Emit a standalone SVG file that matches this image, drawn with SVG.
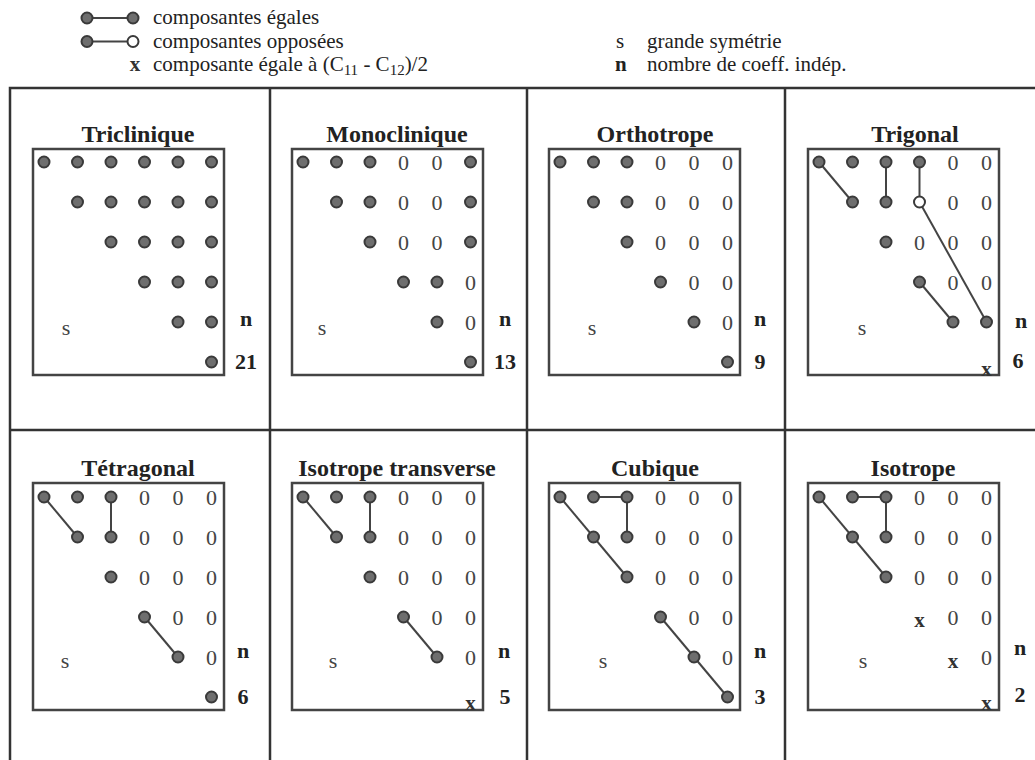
<svg xmlns="http://www.w3.org/2000/svg" width="1035" height="760" viewBox="0 0 1035 760">
<style>
text{font-family:"Liberation Serif","Times New Roman",serif;fill:#222}
.lg{font-size:21px}
.ti{font-size:24px;font-weight:bold;text-anchor:middle}
.z{font-size:22px;text-anchor:middle;fill:#444}
.s{font-size:22px;text-anchor:middle;fill:#444}
.n{font-size:22px;font-weight:bold;text-anchor:middle}
.x{font-size:21px;font-weight:bold;text-anchor:middle;fill:#333}
.frame{stroke:#333;stroke-width:2.5;fill:none}
.box{stroke:#444;stroke-width:2.5;fill:none}
.c{stroke:#444;stroke-width:2;fill:none}
.d{fill:#6e6e6e;stroke:#3a3a3a;stroke-width:2}
.h{fill:#fff;stroke:#3a3a3a;stroke-width:2}
</style>
<defs>
<circle id="dot" class="d" r="5.5"/>
<circle id="hol" class="h" r="5.5"/>
</defs>
<rect width="1035" height="760" fill="#fff"/>

<g id="legend">
<line class="c" x1="87" y1="18" x2="133" y2="18"/>
<use href="#dot" x="87" y="18"/><use href="#dot" x="133" y="18"/>
<text class="lg" x="153" y="24">composantes égales</text>
<line class="c" x1="87" y1="41.5" x2="133" y2="41.5"/>
<use href="#dot" x="87" y="41.5"/><use href="#hol" x="133" y="41.5"/>
<text class="lg" x="153" y="47.5">composantes opposées</text>
<text class="x" x="135" y="71">x</text>
<text class="lg" x="153" y="71">composante égale à (C<tspan font-size="15" dy="4">11</tspan><tspan dy="-4"> - C</tspan><tspan font-size="15" dy="4">12</tspan><tspan dy="-4">)/2</tspan></text>
<text class="lg" x="616" y="47.5">s</text>
<text class="lg" x="647" y="47.5">grande symétrie</text>
<text class="lg" x="615" y="71" font-weight="bold">n</text>
<text class="lg" x="647" y="71">nombre de coeff. indép.</text>
</g>

<g id="frame">
<polyline class="frame" points="1040,88 10,88 10,765"/>
<line class="frame" x1="270" y1="88" x2="270" y2="765"/>
<line class="frame" x1="527" y1="88" x2="527" y2="765"/>
<line class="frame" x1="785" y1="88" x2="785" y2="765"/>
<line class="frame" x1="10" y1="430" x2="1040" y2="430"/>
</g>

<g id="connectors">
<!-- Trigonal -->
<line class="c" x1="819" y1="162" x2="852.5" y2="202"/>
<line class="c" x1="886" y1="162" x2="886" y2="202"/>
<line class="c" x1="919.5" y1="162" x2="919.5" y2="202"/>
<line class="c" x1="919.5" y1="202" x2="986.5" y2="322"/>
<line class="c" x1="919.5" y1="282" x2="953" y2="322"/>
<!-- Tetragonal -->
<line class="c" x1="44" y1="497" x2="77.5" y2="537"/>
<line class="c" x1="111" y1="497" x2="111" y2="537"/>
<line class="c" x1="144.5" y1="617" x2="178" y2="657"/>
<!-- Isotrope transverse -->
<line class="c" x1="303" y1="497" x2="336.5" y2="537"/>
<line class="c" x1="370" y1="497" x2="370" y2="537"/>
<line class="c" x1="403.5" y1="617" x2="437" y2="657"/>
<!-- Cubique -->
<line class="c" x1="560" y1="497" x2="627" y2="577"/>
<line class="c" x1="593.5" y1="497" x2="627" y2="497"/>
<line class="c" x1="627" y1="497" x2="627" y2="537"/>
<line class="c" x1="660.5" y1="617" x2="727.5" y2="697"/>
<!-- Isotrope -->
<line class="c" x1="819" y1="497" x2="886" y2="577"/>
<line class="c" x1="852.5" y1="497" x2="886" y2="497"/>
<line class="c" x1="886" y1="497" x2="886" y2="537"/>
</g>

<g id="triclinique">
<text class="ti" x="138" y="142">Triclinique</text>
<rect class="box" x="33" y="149" width="191" height="226"/>
<use href="#dot" x="44" y="162"/><use href="#dot" x="77.5" y="162"/><use href="#dot" x="111" y="162"/><use href="#dot" x="144.5" y="162"/><use href="#dot" x="178" y="162"/><use href="#dot" x="211.5" y="162"/>
<use href="#dot" x="77.5" y="202"/><use href="#dot" x="111" y="202"/><use href="#dot" x="144.5" y="202"/><use href="#dot" x="178" y="202"/><use href="#dot" x="211.5" y="202"/>
<use href="#dot" x="111" y="242"/><use href="#dot" x="144.5" y="242"/><use href="#dot" x="178" y="242"/><use href="#dot" x="211.5" y="242"/>
<use href="#dot" x="144.5" y="282"/><use href="#dot" x="178" y="282"/><use href="#dot" x="211.5" y="282"/>
<use href="#dot" x="178" y="322"/><use href="#dot" x="211.5" y="322"/>
<use href="#dot" x="211.5" y="362"/>
<text class="s" x="66" y="335">s</text>
<text class="n" x="246" y="326">n</text>
<text class="n" x="246" y="369">21</text>
</g>

<g id="monoclinique">
<text class="ti" x="397" y="142">Monoclinique</text>
<rect class="box" x="292" y="149" width="191" height="226"/>
<use href="#dot" x="303" y="162"/><use href="#dot" x="336.5" y="162"/><use href="#dot" x="370" y="162"/><text class="z" x="403.5" y="169.5">0</text><text class="z" x="437" y="169.5">0</text><use href="#dot" x="470.5" y="162"/>
<use href="#dot" x="336.5" y="202"/><use href="#dot" x="370" y="202"/><text class="z" x="403.5" y="209.5">0</text><text class="z" x="437" y="209.5">0</text><use href="#dot" x="470.5" y="202"/>
<use href="#dot" x="370" y="242"/><text class="z" x="403.5" y="249.5">0</text><text class="z" x="437" y="249.5">0</text><use href="#dot" x="470.5" y="242"/>
<use href="#dot" x="403.5" y="282"/><use href="#dot" x="437" y="282"/><text class="z" x="470.5" y="289.5">0</text>
<use href="#dot" x="437" y="322"/><text class="z" x="470.5" y="329.5">0</text>
<use href="#dot" x="470.5" y="362"/>
<text class="s" x="322" y="335">s</text>
<text class="n" x="505" y="326">n</text>
<text class="n" x="505" y="369">13</text>
</g>

<g id="orthotrope">
<text class="ti" x="655" y="142">Orthotrope</text>
<rect class="box" x="549" y="149" width="191" height="226"/>
<use href="#dot" x="560" y="162"/><use href="#dot" x="593.5" y="162"/><use href="#dot" x="627" y="162"/><text class="z" x="660.5" y="169.5">0</text><text class="z" x="694" y="169.5">0</text><text class="z" x="727.5" y="169.5">0</text>
<use href="#dot" x="593.5" y="202"/><use href="#dot" x="627" y="202"/><text class="z" x="660.5" y="209.5">0</text><text class="z" x="694" y="209.5">0</text><text class="z" x="727.5" y="209.5">0</text>
<use href="#dot" x="627" y="242"/><text class="z" x="660.5" y="249.5">0</text><text class="z" x="694" y="249.5">0</text><text class="z" x="727.5" y="249.5">0</text>
<use href="#dot" x="660.5" y="282"/><text class="z" x="694" y="289.5">0</text><text class="z" x="727.5" y="289.5">0</text>
<use href="#dot" x="694" y="322"/><text class="z" x="727.5" y="329.5">0</text>
<use href="#dot" x="727.5" y="362"/>
<text class="s" x="592" y="335">s</text>
<text class="n" x="760" y="326">n</text>
<text class="n" x="760" y="369">9</text>
</g>

<g id="trigonal">
<text class="ti" x="915" y="142">Trigonal</text>
<rect class="box" x="808" y="149" width="191" height="226"/>
<use href="#dot" x="819" y="162"/><use href="#dot" x="852.5" y="162"/><use href="#dot" x="886" y="162"/><use href="#dot" x="919.5" y="162"/><text class="z" x="953" y="169.5">0</text><text class="z" x="986.5" y="169.5">0</text>
<use href="#dot" x="852.5" y="202"/><use href="#dot" x="886" y="202"/><use href="#hol" x="919.5" y="202"/><text class="z" x="953" y="209.5">0</text><text class="z" x="986.5" y="209.5">0</text>
<use href="#dot" x="886" y="242"/><text class="z" x="919.5" y="249.5">0</text><text class="z" x="953" y="249.5">0</text><text class="z" x="986.5" y="249.5">0</text>
<use href="#dot" x="919.5" y="282"/><text class="z" x="953" y="289.5">0</text><text class="z" x="986.5" y="289.5">0</text>
<use href="#dot" x="953" y="322"/><use href="#dot" x="986.5" y="322"/>
<text class="x" x="986.5" y="376">x</text>
<text class="s" x="862" y="335">s</text>
<text class="n" x="1021" y="328">n</text>
<text class="n" x="1018" y="368">6</text>
</g>

<g id="tetragonal">
<text class="ti" x="138" y="476">Tétragonal</text>
<rect class="box" x="33" y="483" width="191" height="227"/>
<use href="#dot" x="44" y="497"/><use href="#dot" x="77.5" y="497"/><use href="#dot" x="111" y="497"/><text class="z" x="144.5" y="504.5">0</text><text class="z" x="178" y="504.5">0</text><text class="z" x="211.5" y="504.5">0</text>
<use href="#dot" x="77.5" y="537"/><use href="#dot" x="111" y="537"/><text class="z" x="144.5" y="544.5">0</text><text class="z" x="178" y="544.5">0</text><text class="z" x="211.5" y="544.5">0</text>
<use href="#dot" x="111" y="577"/><text class="z" x="144.5" y="584.5">0</text><text class="z" x="178" y="584.5">0</text><text class="z" x="211.5" y="584.5">0</text>
<use href="#dot" x="144.5" y="617"/><text class="z" x="178" y="624.5">0</text><text class="z" x="211.5" y="624.5">0</text>
<use href="#dot" x="178" y="657"/><text class="z" x="211.5" y="664.5">0</text>
<use href="#dot" x="211.5" y="697"/>
<text class="s" x="65" y="668">s</text>
<text class="n" x="243" y="658">n</text>
<text class="n" x="243" y="704">6</text>
</g>

<g id="isotrope-transverse">
<text class="ti" x="397" y="476">Isotrope transverse</text>
<rect class="box" x="292" y="483" width="191" height="227"/>
<use href="#dot" x="303" y="497"/><use href="#dot" x="336.5" y="497"/><use href="#dot" x="370" y="497"/><text class="z" x="403.5" y="504.5">0</text><text class="z" x="437" y="504.5">0</text><text class="z" x="470.5" y="504.5">0</text>
<use href="#dot" x="336.5" y="537"/><use href="#dot" x="370" y="537"/><text class="z" x="403.5" y="544.5">0</text><text class="z" x="437" y="544.5">0</text><text class="z" x="470.5" y="544.5">0</text>
<use href="#dot" x="370" y="577"/><text class="z" x="403.5" y="584.5">0</text><text class="z" x="437" y="584.5">0</text><text class="z" x="470.5" y="584.5">0</text>
<use href="#dot" x="403.5" y="617"/><text class="z" x="437" y="624.5">0</text><text class="z" x="470.5" y="624.5">0</text>
<use href="#dot" x="437" y="657"/><text class="z" x="470.5" y="664.5">0</text>
<text class="x" x="470.5" y="710">x</text>
<text class="s" x="333" y="668">s</text>
<text class="n" x="504" y="658">n</text>
<text class="n" x="505" y="704">5</text>
</g>

<g id="cubique">
<text class="ti" x="655" y="476">Cubique</text>
<rect class="box" x="549" y="483" width="191" height="227"/>
<use href="#dot" x="560" y="497"/><use href="#dot" x="593.5" y="497"/><use href="#dot" x="627" y="497"/><text class="z" x="660.5" y="504.5">0</text><text class="z" x="694" y="504.5">0</text><text class="z" x="727.5" y="504.5">0</text>
<use href="#dot" x="593.5" y="537"/><use href="#dot" x="627" y="537"/><text class="z" x="660.5" y="544.5">0</text><text class="z" x="694" y="544.5">0</text><text class="z" x="727.5" y="544.5">0</text>
<use href="#dot" x="627" y="577"/><text class="z" x="660.5" y="584.5">0</text><text class="z" x="694" y="584.5">0</text><text class="z" x="727.5" y="584.5">0</text>
<use href="#dot" x="660.5" y="617"/><text class="z" x="694" y="624.5">0</text><text class="z" x="727.5" y="624.5">0</text>
<use href="#dot" x="694" y="657"/><text class="z" x="727.5" y="664.5">0</text>
<use href="#dot" x="727.5" y="697"/>
<text class="s" x="603" y="668">s</text>
<text class="n" x="760" y="658">n</text>
<text class="n" x="760" y="704">3</text>
</g>

<g id="isotrope">
<text class="ti" x="913" y="476">Isotrope</text>
<rect class="box" x="808" y="483" width="191" height="227"/>
<use href="#dot" x="819" y="497"/><use href="#dot" x="852.5" y="497"/><use href="#dot" x="886" y="497"/><text class="z" x="919.5" y="504.5">0</text><text class="z" x="953" y="504.5">0</text><text class="z" x="986.5" y="504.5">0</text>
<use href="#dot" x="852.5" y="537"/><use href="#dot" x="886" y="537"/><text class="z" x="919.5" y="544.5">0</text><text class="z" x="953" y="544.5">0</text><text class="z" x="986.5" y="544.5">0</text>
<use href="#dot" x="886" y="577"/><text class="z" x="919.5" y="584.5">0</text><text class="z" x="953" y="584.5">0</text><text class="z" x="986.5" y="584.5">0</text>
<text class="x" x="919.5" y="627">x</text><text class="z" x="953" y="624.5">0</text><text class="z" x="986.5" y="624.5">0</text>
<text class="x" x="953" y="668">x</text><text class="z" x="986.5" y="664.5">0</text>
<text class="x" x="986.5" y="710">x</text>
<text class="s" x="863" y="668">s</text>
<text class="n" x="1020" y="655">n</text>
<text class="n" x="1020" y="702">2</text>
</g>
</svg>
